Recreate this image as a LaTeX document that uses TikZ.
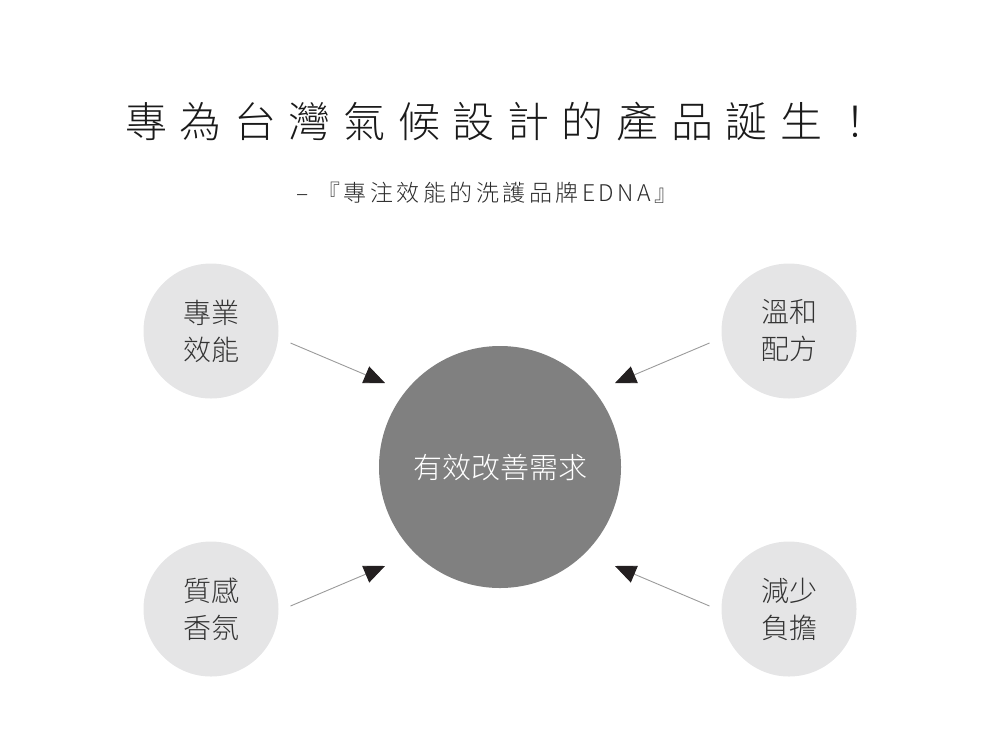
\documentclass[tikz,border=0pt]{standalone}
\usepackage{fontspec}
\newfontfamily\cjk{Noto Sans CJK TC Light}
\usetikzlibrary{arrows.meta}

\definecolor{titleblack}{HTML}{1A1A1A}
\definecolor{subgray}{HTML}{2B2B2B}
\definecolor{bubblegray}{HTML}{E5E5E6}
\definecolor{coregray}{HTML}{808080}
\definecolor{textgray}{HTML}{333333}
\definecolor{linegray}{HTML}{9A9A9A}
\definecolor{tipblack}{HTML}{231F20}

\tikzset{
  bubble/.style={circle,fill=bubblegray,minimum size=135pt,inner sep=0pt,
    outer sep=0pt,align=center,text=textgray,font=\cjk\fontsize{28}{37}\selectfont},
  core/.style={circle,fill=coregray,minimum size=242pt,inner sep=0pt,
    outer sep=0pt,text=white,font=\cjk\fontsize{29}{35}\selectfont},
  arr/.style={draw=linegray,line width=0.9pt,
    -{Triangle[length=21pt,width=18pt,color=tipblack]}}
}

\begin{document}
\begin{tikzpicture}[x=1pt,y=-1pt]
  \useasboundingbox (0,0) rectangle (1000,740);

  \node[text=titleblack,font=\cjk\fontsize{42}{50}\selectfont\addfontfeature{LetterSpace=30}]
    (title) at (501,122) {專為台灣氣候設計的產品誕生！};
  \node[text=subgray,font=\cjk\fontsize{23}{27}\selectfont\addfontfeature{LetterSpace=15}]
    (subtitle) at (487,193) {– 『專注效能的洗護品牌EDNA』};

  \node[core] (N0) at (500,467) {有效改善需求};
  \node[bubble] (N1) at (211,331) {專業\\效能};
  \node[bubble] (N2) at (789,331) {溫和\\配方};
  \node[bubble] (N3) at (211,609) {質感\\香氛};
  \node[bubble] (N4) at (789,609) {減少\\負擔};

  \draw[arr] ([shift={(12,12)}]N1.east) -- ([shift={(-115,-84)}]N0.center);
  \draw[arr] ([shift={(-12,12)}]N2.west) -- ([shift={(115,-84)}]N0.center);
  \draw[arr] ([shift={(12,-3)}]N3.east) -- ([shift={(-115,99)}]N0.center);
  \draw[arr] ([shift={(-12,-3)}]N4.west) -- ([shift={(115,99)}]N0.center);
\end{tikzpicture}
\end{document}
